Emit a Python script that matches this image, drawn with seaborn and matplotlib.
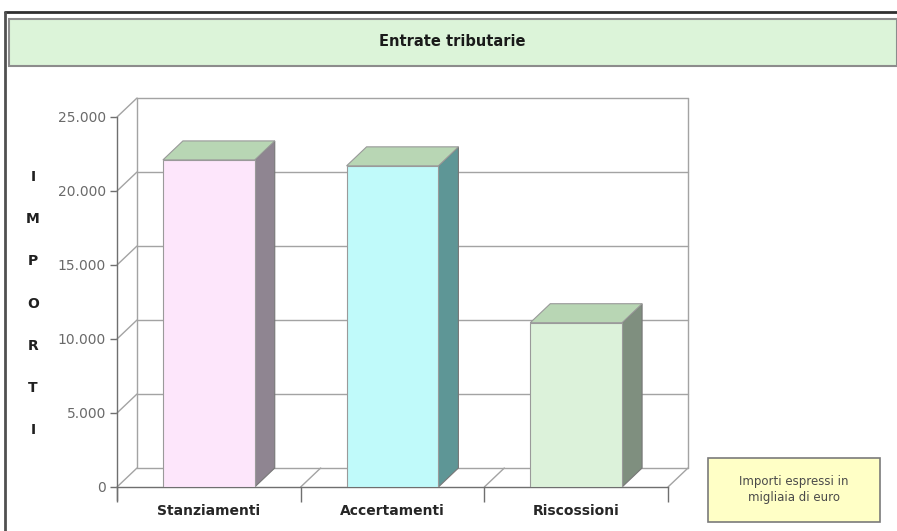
import matplotlib.pyplot as plt
import matplotlib.patches as mpatches
import seaborn as sns
import pandas as pd

# data (migliaia di euro)
categories = ['Stanziamenti', 'Accertamenti', 'Riscossioni']
importi = [22100, 21700, 11100]
front_colors = ['#fde6fb', '#c0fafa', '#dcf2da']
side_colors = ['#8f8591', '#5e9696', '#7f8f7f']
top_color = '#b8d6b4'
y_ticks = [0, 5000, 10000, 15000, 20000, 25000]
y_labels = ['0', '5.000', '10.000', '15.000', '20.000', '25.000']
ylabel_letters = list('IMPORTI')

df = pd.DataFrame({'voce': categories, 'importo': importi})

sns.set_theme(style='white')
plt.rcParams['font.family'] = ['DejaVu Sans']

W, H = 897, 531
fig = plt.figure(figsize=(W / 100, H / 100), dpi=100)
fig.patch.set_facecolor('white')

# front plane of the plot area, in pixels of the reference
ax_l, ax_r, ax_b, ax_t = 117, 668, 487, 117
ax = fig.add_axes([ax_l / W, 1 - ax_b / H, (ax_r - ax_l) / W, (ax_b - ax_t) / H])
ax.set_facecolor('none')

sns.barplot(data=df, x='voce', y='importo', hue='voce', palette=front_colors,
            width=0.5, legend=False, ax=ax, saturation=1,
            edgecolor='#9a9a9a', linewidth=0.8, zorder=4)
ax.set_xlim(-0.5, 2.5)
ax.set_ylim(0, 25000)

# fake 3D depth: pixels -> data units
dx = 20 * 3 / (ax_r - ax_l)
dy = 19 * 25000 / (ax_b - ax_t)
grid_c = '#a3a3a3'
x0, x1 = -0.5, 2.5

# walls and gridlines
for t in y_ticks:
    ax.plot([x0, x0 + dx], [t, t + dy], color=grid_c, lw=1, clip_on=False, zorder=1)
    ax.plot([x0 + dx, x1 + dx], [t + dy, t + dy], color=grid_c, lw=1, clip_on=False, zorder=1)
ax.plot([x0 + dx, x0 + dx], [dy, 25000 + dy], color=grid_c, lw=1, clip_on=False, zorder=1)
ax.plot([x1 + dx, x1 + dx], [dy, 25000 + dy], color=grid_c, lw=1, clip_on=False, zorder=1)
for b in [0.5, 1.5, 2.5]:
    ax.plot([b, b + dx], [0, dy], color=grid_c, lw=1, clip_on=False, zorder=1)

# side and top faces of each column
for p, sc in zip(ax.patches[:len(categories)], side_colors):
    bx, bw, bh = p.get_x(), p.get_width(), p.get_height()
    side = [(bx + bw, 0), (bx + bw + dx, dy), (bx + bw + dx, bh + dy), (bx + bw, bh)]
    top = [(bx, bh), (bx + bw, bh), (bx + bw + dx, bh + dy), (bx + dx, bh + dy)]
    ax.add_patch(mpatches.Polygon(side, closed=True, facecolor=sc, edgecolor='#777777',
                                  lw=0.8, zorder=3, clip_on=False))
    ax.add_patch(mpatches.Polygon(top, closed=True, facecolor=top_color, edgecolor='#999999',
                                  lw=0.8, zorder=3, clip_on=False))

# axes styling
for s in ['top', 'right']:
    ax.spines[s].set_visible(False)
for s in ['left', 'bottom']:
    ax.spines[s].set_color('#6f6f6f')
    ax.spines[s].set_linewidth(1)
ax.spines['left'].set_bounds(-900, 25000)
ax.set_yticks(y_ticks)
ax.set_yticklabels(y_labels, fontsize=10, color='#6a6a6a')
ax.set_xticks([-0.5, 0.5, 1.5, 2.5], minor=True)
ax.set_xticks(range(len(categories)))
ax.set_xticklabels(categories, fontsize=10, fontweight='bold', color='#262626')
ax.tick_params(axis='y', which='major', left=True, length=5, width=1, color='#6f6f6f', pad=3)
ax.tick_params(axis='x', which='major', bottom=False, pad=6)
ax.tick_params(axis='x', which='minor', bottom=True, length=11, width=1, color='#6f6f6f')
ax.set_xlabel('')
ax.set_ylabel('')

# vertical axis title, one letter per line
for i, ch in enumerate(ylabel_letters):
    fig.text(33 / W, 1 - (177 + 42.2 * i) / H, ch, fontsize=10, fontweight='bold',
             color='#202020', ha='center', va='center')

# outer frame
fig.add_artist(plt.Line2D([5 / W, 1], [1 - 12 / H, 1 - 12 / H], color='#303030', lw=2))
fig.add_artist(plt.Line2D([5 / W, 5 / W], [0, 1 - 12 / H], color='#505050', lw=2))

# title banner
fig.add_artist(mpatches.Rectangle((9 / W, 1 - 66 / H), 1 - 9 / W, 47 / H,
                                  facecolor='#dcf4d9', edgecolor='#8c8c8c', lw=1.5,
                                  transform=fig.transFigure))
fig.text(452 / W, 1 - 42 / H, 'Entrate tributarie', fontsize=10.5, fontweight='bold',
         color='#1a1a1a', ha='center', va='center')

# note box
fig.add_artist(mpatches.Rectangle((708 / W, 1 - 522 / H), 172 / W, 64 / H,
                                  facecolor='#ffffc6', edgecolor='#7a7a7a', lw=1.2,
                                  transform=fig.transFigure))
fig.text(794 / W, 1 - 490 / H, 'Importi espressi in\nmigliaia di euro', fontsize=8.5,
         color='#4a4a4a', ha='center', va='center', linespacing=1.3)

plt.savefig('out.png', dpi=100)
